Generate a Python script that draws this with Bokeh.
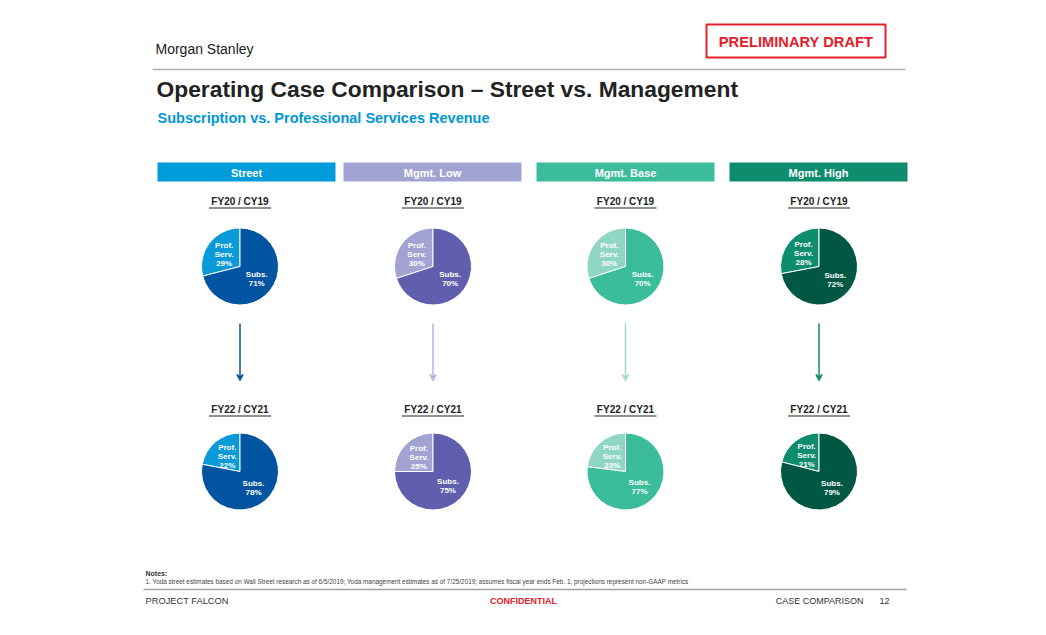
import math
from bokeh.plotting import figure
from bokeh.models import Range1d, ColumnDataSource, Arrow, VeeHead
from bokeh.core.properties import value
from bokeh.embed import file_html
from bokeh.resources import INLINE

# ---------------- data ----------------
cases = ["Street", "Mgmt. Low", "Mgmt. Base", "Mgmt. High"]
periods = ["FY20 / CY19", "FY22 / CY21"]
subs_fy20 = [71, 70, 70, 72]
prof_fy20 = [29, 30, 30, 28]
subs_fy22 = [78, 75, 77, 79]
prof_fy22 = [22, 25, 23, 21]
header_colors = ["#009BDB", "#A3A3D3", "#3BBD9C", "#0E8C6E"]
subs_colors = ["#0054A0", "#5F5FAD", "#3BBD9C", "#005744"]
prof_colors = ["#0A9AD8", "#A3A3D3", "#8FD6C4", "#0E8C6E"]
arrow_colors = ["#0055A0", "#B4B4DF", "#9EDCCB", "#0E8C6E"]
title = "Operating Case Comparison \u2013 Street vs. Management"
subtitle = "Subscription vs. Professional Services Revenue"
note = ("1.   Yoda street estimates based on Wall Street research as of 6/5/2019; Yoda management estimates "
        "as of 7/25/2019; assumes fiscal year ends Feb. 1; projections represent non-GAAP metrics")

FONT = value("Liberation Sans")

W, H = 1030, 619
p = figure(width=W, height=H, output_backend="svg", toolbar_location=None,
           x_range=Range1d(0, W), y_range=Range1d(-H, 0),
           min_border=0, background_fill_color="white", border_fill_color="white")
p.axis.visible = False
p.grid.visible = False
p.outline_line_color = None


def txt(x, y, s, size, color="#222222", bold=False, align="left", baseline="middle"):
    p.text(x=[x], y=[-y], text=[s], text_font=FONT, text_font_size=f"{size}px",
           text_color=color, text_font_style="bold" if bold else "normal",
           text_align=align, text_baseline=baseline)


# header
txt(155, 48, "Morgan Stanley", 14, color="#1a1a1a")
p.quad(left=[706], right=[885], top=[-24], bottom=[-57], fill_color=None,
       line_color="#E3202A", line_width=2)
txt(795.5, 41, "PRELIMINARY DRAFT", 14.7, color="#E3202A", bold=True, align="center")
p.segment(x0=[152], x1=[905], y0=[-69], y1=[-69], line_color="#B0B0B0", line_width=1.5)
txt(156, 88, title, 22.8, color="#222222", bold=True)
txt(157, 117, subtitle, 14.5, color="#0096D6", bold=True)

# columns
bar_left = [157, 343, 536, 729]
bar_right = [335, 521, 714, 907]
centers = [239.5, 432.5, 625, 818.5]
row_y = [266, 471]
label_y = [201, 409]
R = 38.5
rows = [(subs_fy20, prof_fy20), (subs_fy22, prof_fy22)]

for i, case in enumerate(cases):
    p.quad(left=[bar_left[i]], right=[bar_right[i]], top=[-162], bottom=[-181],
           fill_color=header_colors[i], line_color=None)
    txt((bar_left[i] + bar_right[i]) / 2, 172, case, 11, color="white", bold=True, align="center")
    cx = centers[i]
    for r, (subs, prof) in enumerate(rows):
        ly = label_y[r]
        txt(cx, ly, periods[r], 10, color="#222222", bold=True, align="center")
        p.segment(x0=[cx - 31], x1=[cx + 31], y0=[-(ly + 6.5)], y1=[-(ly + 6.5)],
                  line_color="#222222", line_width=1)
        cy = row_y[r]
        total = subs[i] + prof[i]
        pf = prof[i] / total
        a0 = math.pi / 2
        a1 = a0 + pf * 2 * math.pi
        a2 = a0 + 2 * math.pi
        src = ColumnDataSource(dict(x=[cx, cx], y=[-cy, -cy], s=[a0, a1], e=[a1, a2],
                                    c=[prof_colors[i], subs_colors[i]]))
        p.wedge(x="x", y="y", radius=R, radius_units="screen", start_angle="s",
                end_angle="e", direction="anticlock", fill_color="c",
                line_color="white", line_width=1, source=src)
        # labels
        mp = (a0 + a1) / 2
        ms = (a1 + a2) / 2
        rp = 0.52 * R
        rs = 0.55 * R
        px, py = cx + rp * math.cos(mp), cy - rp * math.sin(mp)
        sx, sy = cx + rs * math.cos(ms), cy - rs * math.sin(ms)
        for k, line in enumerate(["Prof.", "Serv.", f"{prof[i]}%"]):
            txt(px, py + (k - 1) * 9, line, 8, color="white", bold=True, align="center")
        for k, line in enumerate(["Subs.", f"{subs[i]}%"]):
            txt(sx, sy + (k - 0.5) * 9, line, 8, color="white", bold=True, align="center")
    p.add_layout(Arrow(end=VeeHead(size=6, line_color=arrow_colors[i], line_width=1.5,
                                   fill_color=None),
                       x_start=cx, y_start=-323, x_end=cx, y_end=-380,
                       line_color=arrow_colors[i], line_width=1.5))

# notes + footer
txt(145, 573, "Notes:", 7, color="#333333", bold=True)
txt(145, 580.5, note, 6.4, color="#444444")
p.segment(x0=[143], x1=[906], y0=[-589], y1=[-589], line_color="#A0A0A0", line_width=1.5)
txt(145, 600, "PROJECT FALCON", 9.3, color="#333333")
txt(523, 600.5, "CONFIDENTIAL", 9, color="#E3202A", bold=True, align="center")
txt(863, 600, "CASE COMPARISON", 9, color="#333333", align="right")
txt(889, 600, "12", 9, color="#333333", align="right")

open("out.html", "w").write(file_html(p, INLINE))
